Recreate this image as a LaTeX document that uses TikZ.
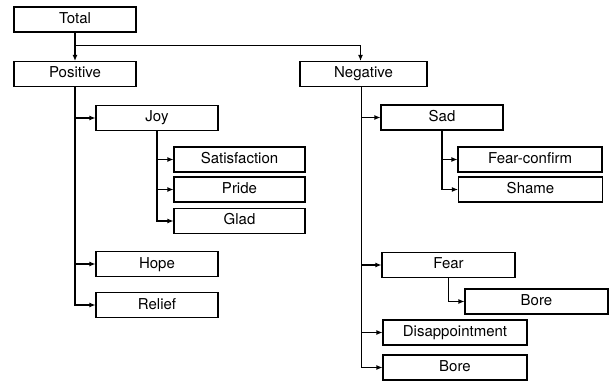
\documentclass[tikz,border=0pt]{standalone}
\usepackage{fontspec}
\setmainfont{TeX Gyre Heros}
\usetikzlibrary{arrows.meta}
\tikzstyle{boxed} = [rectangle, minimum width=122pt, minimum height=25pt, inner sep=0pt, text height=11pt, text depth=3pt, text centered, draw=black, line width=1.1pt, font=\fontsize{15}{17}\selectfont]
\tikzstyle{branch} = [line width=1.1pt, -{Latex[length=6pt,width=5pt]}]

\begin{document}
\begin{tikzpicture}[x=1pt, y=-1pt]
		\useasboundingbox (0,0) rectangle (613,390);
		\node (total) [boxed] at (75,19.5) {Total};
		\node (positive) [boxed] at (75,74) {Positive};
		\node (negative) [boxed, minimum width=127pt] at (363.5,74) {Negative};
		\node (joy) [boxed] at (157,118) {Joy};
		\node (satisfaction) [boxed, minimum width=131pt] at (239.5,159.5) {Satisfaction};
		\node (pride) [boxed, minimum width=131pt] at (239.5,189.5) {Pride};
		\node (glad) [boxed, minimum width=131pt] at (239.5,221) {Glad};
		\node (hope) [boxed] at (157,264) {Hope};
		\node (relief) [boxed] at (157,305) {Relief};
		\node (sad) [boxed] at (442,117.5) {Sad};
		\node (fearconfirm) [boxed, minimum width=144pt] at (530,159.5) {Fear-confirm};
		\node (shame) [boxed, minimum width=144pt] at (530.5,189.5) {Shame};
		\node (fear) [boxed, minimum width=133pt] at (448.5,265) {Fear};
		\node (fearbore) [boxed, minimum width=143pt] at (536.5,301.5) {Bore};
		\node (disappointment) [boxed, minimum width=144pt] at (455,332.5) {Disappointment};
		\node (bore) [boxed, minimum width=144pt] at (455,367.5) {Bore};

		\draw [branch] (total) -- (positive);
		\draw [branch] (total.south) -- ++(0,13) -| ([xshift=-3pt]negative.north);
		\draw [branch] (positive.south) |- (joy);
		\draw [branch] (positive.south) |- (hope);
		\draw [branch] (positive.south) |- (relief);
		\draw [branch] (joy.south) |- (satisfaction);
		\draw [branch] (joy.south) |- (pride);
		\draw [branch] (joy.south) |- (glad);
		\draw [branch] ([xshift=-2pt]negative.south) |- (sad);
		\draw [branch] ([xshift=-2pt]negative.south) |- (fear);
		\draw [branch] ([xshift=-2pt]negative.south) |- (disappointment);
		\draw [branch] ([xshift=-2pt]negative.south) |- (bore);
		\draw [branch] (sad.south) |- (fearconfirm);
		\draw [branch] (sad.south) |- (shame);
		\draw [branch] (fear.south) |- (fearbore);
		\end{tikzpicture}
\end{document}
